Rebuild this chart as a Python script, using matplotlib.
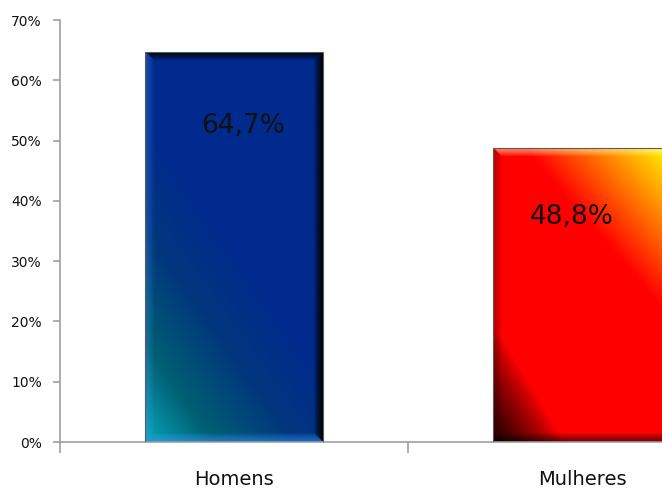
import numpy as np
import matplotlib
matplotlib.use("Agg")
import matplotlib.pyplot as plt
from matplotlib.ticker import FuncFormatter, FixedLocator

categories = ["Homens", "Mulheres"]
values = [0.647, 0.488]
value_labels = ["64,7%", "48,8%"]


def _ramp(s, stops):
    """Piecewise-linear colour ramp: stops = [(pos, (r, g, b)), ...]."""
    pos = np.array([p for p, _ in stops])
    cols = np.array([c for _, c in stops], dtype=float) / 255.0
    out = np.empty(s.shape + (3,))
    for k in range(3):
        out[..., k] = np.interp(s, pos, cols[:, k])
    return out


def _mix(img, target, amount):
    amount = np.clip(amount, 0, 1)[..., None]
    return img * (1 - amount) + np.array(target)[None, None, :] * amount


def _fill_blue(u, v):
    s = u * 0.9 + v * 1.4
    return _ramp(s, [(0.0, (10, 165, 185)), (0.35, (0, 95, 115)),
                     (0.75, (0, 55, 125)), (1.15, (0, 42, 142)),
                     (3.0, (0, 42, 142))])


def _fill_red(u, v):
    img = np.zeros(u.shape + (3,))
    img[..., 0] = 1.0
    # warm highlight towards the top-right corner
    r = (1 - u) * 0.9 + (1 - v) * 1.3
    yel = np.clip(1 - r / 0.75, 0, 1)
    img[..., 1] = yel
    # dark shadow in the bottom-left corner
    q = (u + v) / 0.4
    dark = np.clip(1 - q, 0, 1) ** 0.8
    img = _mix(img, (0.08, 0, 0), dark)
    return img


def _bevel(img, px_w, px_h, edges, w=9.0):
    ny, nx = img.shape[:2]
    xx = (np.arange(nx) + 0.5) / nx * px_w
    yy = (np.arange(ny) + 0.5) / ny * px_h
    X, Y = np.meshgrid(xx, yy)
    d = {"left": X, "right": px_w - X, "bottom": Y, "top": px_h - Y}
    dmin = np.minimum.reduce(list(d.values()))
    for name, (target, strength) in edges.items():
        near = (d[name] <= dmin + 1e-9) & (d[name] < w)
        amt = np.where(near, strength * (1 - d[name] / w) ** 0.7, 0)
        img = _mix(img, target, amt)
    return img


fig = plt.figure(figsize=(6.62, 4.90), dpi=100)
ax = fig.add_axes([60 / 662, 48 / 490, 602 / 662, 422 / 490])
ax.set_xlim(-0.5, 1.23)
ax.set_ylim(0, 0.70)

x = np.arange(len(categories))
bars = ax.bar(x, values, width=0.51, color="none", edgecolor="#5a5a5a",
              linewidth=0.8, zorder=3)

fills = [_fill_blue, _fill_red]
bevels = [
    {"top": ((0, 0, 0), 1.0), "right": ((0, 0, 0), 1.0),
     "left": ((0.3, 0.6, 1.0), 0.3), "bottom": ((0.2, 0.6, 1.0), 0.55)},
    {"top": ((1, 1, 0.75), 0.6), "left": ((0.2, 0, 0), 0.35),
     "bottom": ((0, 0, 0), 0.55), "right": ((0.4, 0.1, 0), 0.4)},
]

for bar, fill, bev in zip(bars, fills, bevels):
    x0, y0 = bar.get_x(), bar.get_y()
    x1, y1 = x0 + bar.get_width(), y0 + bar.get_height()
    (p0x, p0y), (p1x, p1y) = ax.transData.transform([(x0, y0), (x1, y1)])
    px_w, px_h = abs(p1x - p0x), abs(p1y - p0y)
    nx, ny = int(px_w * 2), int(px_h * 2)
    u, v = np.meshgrid(np.linspace(0, 1, nx), np.linspace(0, 1, ny))
    img = fill(u, v)
    img = _bevel(img, px_w, px_h, bev)
    im = ax.imshow(img, origin="lower", extent=(x0, x1, y0, y1),
                   aspect="auto", interpolation="bilinear", zorder=2)
    im.set_clip_path(bar)

ax.set_xlim(-0.5, 1.23)
ax.set_ylim(0, 0.70)

# value labels sit inside the bar, a little below its top
label_dx = [0.025, -0.03]
label_dy = [-0.123, -0.114]
for xi, val, lab, dx, dy in zip(x, values, value_labels, label_dx, label_dy):
    ax.text(xi + dx, val + dy, lab, ha="center", va="center",
            fontsize=19, color="#111111", zorder=4)

for side in ("top", "right"):
    ax.spines[side].set_visible(False)
for side in ("left", "bottom"):
    ax.spines[side].set_color("#a0a0a0")
    ax.spines[side].set_linewidth(1.2)

ax.set_yticks(np.arange(0, 0.71, 0.1))
ax.yaxis.set_major_formatter(FuncFormatter(lambda y, _: f"{y * 100:.0f}%"))
ax.tick_params(axis="y", length=5, width=1.2, color="#a0a0a0", pad=8,
               labelsize=10, labelcolor="#111111")

ax.xaxis.set_major_locator(FixedLocator([-0.5, 0.5, 1.5]))
ax.xaxis.set_major_formatter(FuncFormatter(lambda v, _: ""))
ax.set_xticks(x, categories, minor=True)
ax.tick_params(axis="x", which="major", length=8, width=1.2, color="#a0a0a0")
ax.tick_params(axis="x", which="minor", length=0, pad=20, labelsize=14,
               labelcolor="#111111")

fig.savefig("out.png", dpi=100)
